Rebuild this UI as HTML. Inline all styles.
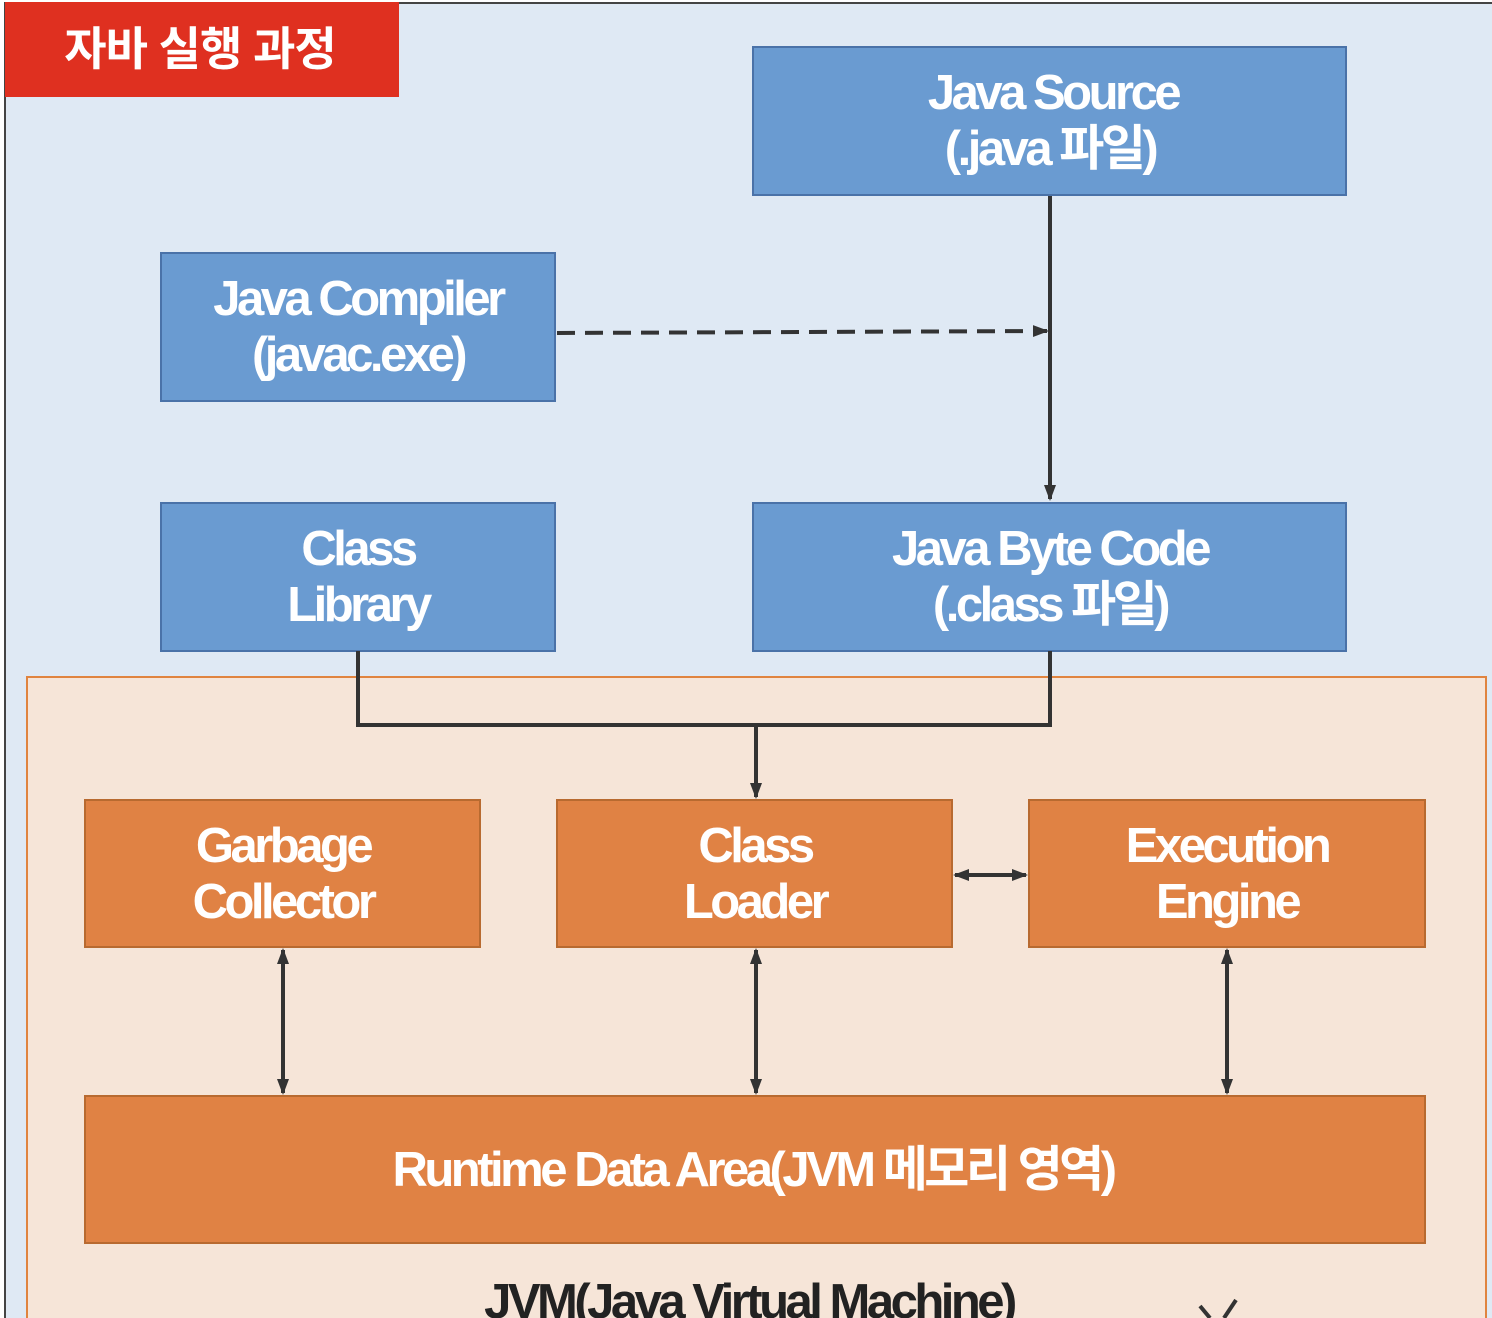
<!DOCTYPE html>
<html><head><meta charset="utf-8"><style>
html,body{margin:0;padding:0;background:#fff;}
svg{display:block}
text{font-family:"Liberation Sans","Noto Sans CJK KR",sans-serif;letter-spacing:-3.5px;font-weight:bold;}
</style></head><body>
<svg width="1492" height="1318" viewBox="0 0 1492 1318" xmlns="http://www.w3.org/2000/svg">
<defs>
<marker id="b" markerWidth="16" markerHeight="16" refX="14" refY="8" orient="auto-start-reverse" markerUnits="userSpaceOnUse" viewBox="0 0 16 16"><path d="M0,2 L16,8 L0,14 z" fill="#333"/></marker>
</defs>
<rect x="0" y="0" width="1492" height="1318" fill="#fff"/>
<rect x="5" y="3" width="1500" height="1330" fill="#dfe9f4" stroke="#444" stroke-width="2"/>
<rect x="5" y="2" width="394" height="95" fill="#df3020"/>
<text x="200" y="65" font-size="46" fill="#fff" text-anchor="middle" style="letter-spacing:-1px">자바 실행 과정</text>
<rect x="27" y="677" width="1459" height="660" fill="#f6e5d8" stroke="#e0843f" stroke-width="2"/>

<g fill="#6a9bd1" stroke="#4a72a8" stroke-width="2">
<rect x="753" y="47" width="593" height="148"/>
<rect x="161" y="253" width="394" height="148"/>
<rect x="161" y="503" width="394" height="148"/>
<rect x="753" y="503" width="593" height="148"/>
</g>
<g fill="#e08244" stroke="#b86a30" stroke-width="2">
<rect x="85" y="800" width="395" height="147"/>
<rect x="557" y="800" width="395" height="147"/>
<rect x="1029" y="800" width="396" height="147"/>
<rect x="85" y="1096" width="1340" height="147"/>
</g>

<g fill="#fff" font-size="49" text-anchor="middle">
<text x="1053" y="109">Java Source</text>
<text x="1050" y="165">(.java 파일)</text>
<text x="358" y="315">Java Compiler</text>
<text x="358" y="371">(javac.exe)</text>
<text x="358" y="565">Class</text>
<text x="358" y="621">Library</text>
<text x="1050" y="565">Java Byte Code</text>
<text x="1050" y="621">(.class 파일)</text>
<text x="283" y="862">Garbage</text>
<text x="283" y="918">Collector</text>
<text x="755" y="862">Class</text>
<text x="755" y="918">Loader</text>
<text x="1227" y="862">Execution</text>
<text x="1227" y="918">Engine</text>
<text x="753" y="1186">Runtime Data Area(JVM 메모리 영역)</text>
</g>
<text x="749" y="1318" font-size="49" fill="#222" text-anchor="middle">JVM(Java Virtual Machine)</text>
<path d="M1200,1306 L1210,1318 M1236,1300 L1224,1318" stroke="#333" stroke-width="4" fill="none"/>

<g stroke="#333" stroke-width="4" fill="none">
<line x1="1050" y1="196" x2="1050" y2="499" marker-end="url(#b)"/>
<line x1="557" y1="333" x2="1047" y2="331" stroke-dasharray="18,10" marker-end="url(#b)"/>
<polyline points="358,651 358,725 1050,725 1050,651"/>
<line x1="756" y1="725" x2="756" y2="797" marker-end="url(#b)"/>
<line x1="955" y1="875" x2="1026" y2="875" marker-start="url(#b)" marker-end="url(#b)"/>
<line x1="283" y1="950" x2="283" y2="1093" marker-start="url(#b)" marker-end="url(#b)"/>
<line x1="756" y1="950" x2="756" y2="1093" marker-start="url(#b)" marker-end="url(#b)"/>
<line x1="1227" y1="950" x2="1227" y2="1093" marker-start="url(#b)" marker-end="url(#b)"/>
</g>
</svg>
</body></html>
